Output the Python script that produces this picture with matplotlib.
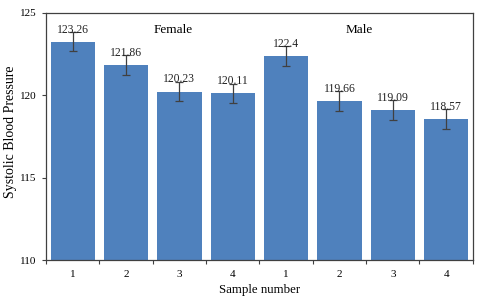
import matplotlib
matplotlib.use("Agg")
import matplotlib.pyplot as plt
import numpy as np

plt.rcParams['font.family'] = ['Liberation Serif', 'DejaVu Serif']

tick_labels = ["1", "2", "3", "4", "1", "2", "3", "4"]
values = [123.26, 121.86, 120.23, 120.11, 122.4, 119.66, 119.09, 118.57]
errors = [0.6, 0.6, 0.6, 0.6, 0.6, 0.6, 0.6, 0.6]
value_labels = ["123.26", "121.86", "120.23", "120.11", "122.4", "119.66", "119.09", "118.57"]
groups = ["Female", "Male"]

fig = plt.figure(figsize=(4.8, 3.0), dpi=100)
ax = fig.add_axes([0.096, 0.133, 0.889, 0.824])

x = np.arange(len(values))
ax.bar(x, [v - 110 for v in values], bottom=110, width=0.83, color="#4F81BD", zorder=2)
ax.errorbar(x, values, yerr=errors, fmt="none", ecolor="#404040", elinewidth=0.9,
            capsize=3, capthick=0.9, zorder=3)

for xi, v, lab in zip(x, values, value_labels):
    ax.annotate(lab, (xi, v), xytext=(0, 6.5), textcoords="offset points",
                ha="center", va="baseline", fontsize=8.4, color="#222222", zorder=4)

ax.text(1.88, 123.97, groups[0], ha="center", va="center", fontsize=9.5)
ax.text(5.38, 123.97, groups[1], ha="center", va="center", fontsize=9.5)

ax.set_xlim(-0.5, len(values) - 0.5)
ax.set_ylim(110, 125)
ax.set_yticks([110, 115, 120, 125])
ax.set_xticks(x)
ax.set_xticklabels(tick_labels)
ax.set_xticks(np.arange(-0.5, len(values)), minor=True)
ax.tick_params(axis="x", which="major", length=0, labelsize=8, pad=7)
ax.tick_params(axis="x", which="minor", length=3, width=0.8, color="#404040")
ax.tick_params(axis="y", which="major", length=3, width=0.8, labelsize=8, color="#404040", pad=4)

for s in ax.spines.values():
    s.set_color("#404040")
    s.set_linewidth(0.9)

ax.set_xlabel("Sample number", fontsize=9.3, labelpad=4)
ax.set_ylabel("Systolic Blood Pressure", fontsize=10, labelpad=3)
ax.yaxis.set_label_coords(-0.068, 0.52)

fig.savefig("out.png", dpi=100)
